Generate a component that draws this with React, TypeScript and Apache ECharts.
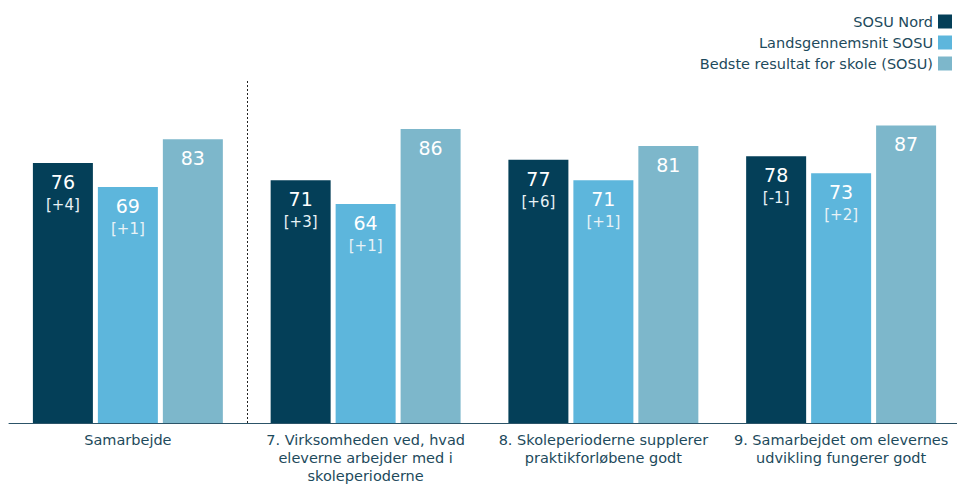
import React, { useEffect, useRef } from "react";
import * as echarts from "echarts";

const categories = [
  "Samarbejde",
  "7. Virksomheden ved, hvad\neleverne arbejder med i\nskoleperioderne",
  "8. Skoleperioderne supplerer\npraktikforløbene godt",
  "9. Samarbejdet om elevernes\nudvikling fungerer godt",
];
const seriesNames = ["SOSU Nord", "Landsgennemsnit SOSU", "Bedste resultat for skole (SOSU)"];
const sosuNord = [76, 71, 77, 78];
const sosuNordDiff = ["+4", "+3", "+6", "-1"];
const landsgennemsnit = [69, 64, 71, 73];
const landsgennemsnitDiff = ["+1", "+1", "+1", "+2"];
const bedste = [83, 86, 81, 87];
const dividerAfter = 1; // dotted divider after the first category
const colors = ["#043f58", "#5db6dc", "#7db7cb"];
const textColor = "#1d4a5c";
const font = "DejaVu Sans";

export default function App() {
  const ref = useRef<HTMLDivElement>(null);
  useEffect(() => {
    const chart = echarts.init(ref.current!, null, { renderer: "svg" });
    const mkLabel = (diffs: string[] | null) => ({
      show: true,
      position: "insideTop",
      distance: 8,
      color: "#ffffff",
      fontFamily: font,
      formatter: (p: any) =>
        diffs ? `{v|${p.value}}\n{d|[${diffs[p.dataIndex]}]}` : `{v|${p.value}}`,
      rich: {
        v: { fontSize: 19, color: "#ffffff", fontFamily: font, lineHeight: 22 },
        d: { fontSize: 15, color: "#e8f2f6", fontFamily: font, lineHeight: 24 },
      },
    });
    chart.setOption({
      animation: false,
      legend: {
        orient: "vertical",
        right: 0,
        top: 9,
        align: "right",
        itemWidth: 14,
        itemHeight: 14,
        itemGap: 6,
        icon: "rect",
        textStyle: { color: textColor, fontSize: 14.5, fontFamily: font },
        data: seriesNames,
      },
      grid: { left: 9, right: -3, top: 81, bottom: 62, outerBoundsMode: "none", containLabel: false },
      xAxis: [
        {
          type: "category",
          data: categories,
          axisLine: { show: true, lineStyle: { color: "#2c5468", width: 1 } },
          axisTick: { show: false },
          axisLabel: {
            color: textColor,
            fontSize: 14.5,
            fontFamily: font,
            lineHeight: 18,
            interval: 0,
            margin: 8,
          },
          splitLine: { show: false },
          z: 5,
        },
        {
          type: "value",
          min: 0,
          max: categories.length,
          show: false,
        },
      ],
      yAxis: {
        type: "value",
        min: 0,
        max: 100,
        show: false,
        splitLine: { show: false },
      },
      series: [
        {
          name: seriesNames[0],
          type: "bar",
          data: sosuNord,
          barWidth: 60,
          barGap: "8.3%",
          itemStyle: { color: colors[0] },
          label: mkLabel(sosuNordDiff),
        },
        {
          name: seriesNames[1],
          type: "bar",
          data: landsgennemsnit,
          barWidth: 60,
          barGap: "8.3%",
          itemStyle: { color: colors[1] },
          label: mkLabel(landsgennemsnitDiff),
        },
        {
          name: seriesNames[2],
          type: "bar",
          data: bedste,
          barWidth: 60,
          barGap: "8.3%",
          itemStyle: { color: colors[2] },
          label: mkLabel(null),
        },
        {
          name: "divider",
          type: "line",
          xAxisIndex: 1,
          data: [],
          silent: true,
          markLine: {
            silent: true,
            symbol: "none",
            label: { show: false },
            lineStyle: { color: "#222222", type: [2, 2], width: 1 },
            data: [{ xAxis: dividerAfter }],
          },
        },
      ],
    });
    return () => chart.dispose();
  }, []);
  return <div ref={ref} style={{ width: 957, height: 485, position: "absolute", left: 0, top: 0 }} />;
}
